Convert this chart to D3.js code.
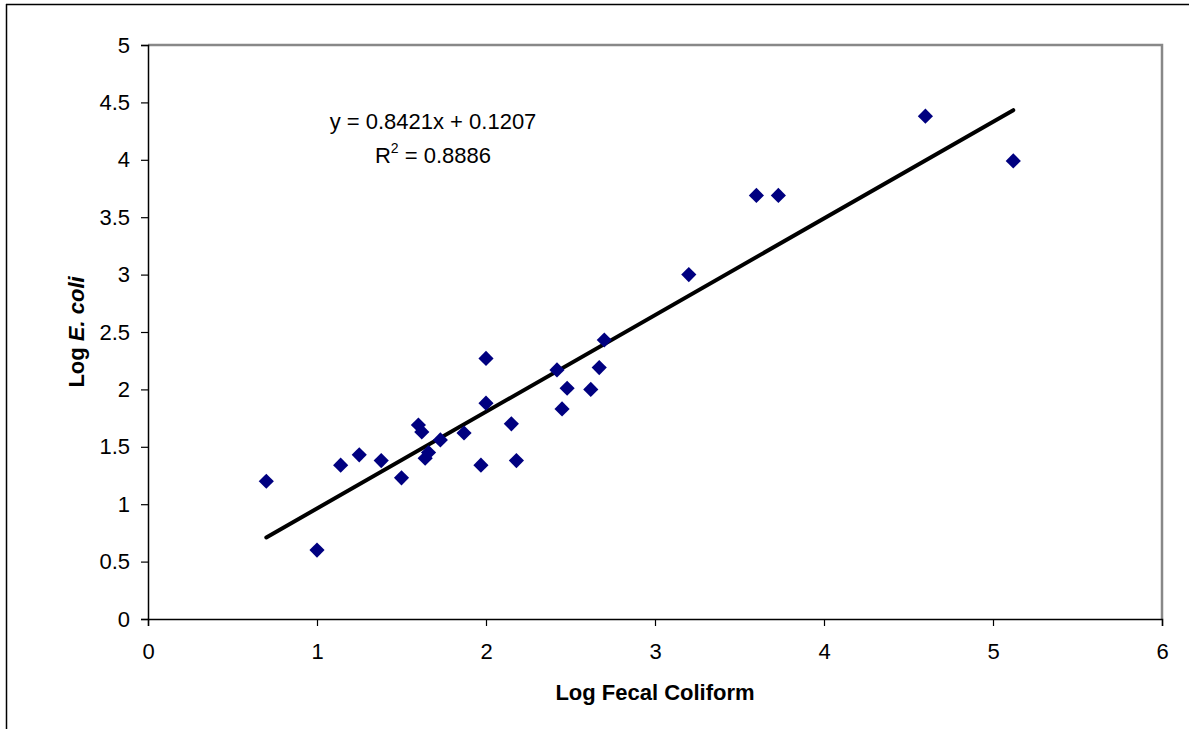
<!DOCTYPE html>
<html>
<head>
<meta charset="utf-8">
<script src="https://cdn.jsdelivr.net/npm/d3@7"></script>
<style>
  body { margin: 0; background: #fff; }
  svg { display: block; font-family: "Liberation Sans", Arial, sans-serif; }
</style>
</head>
<body>
<svg id="chart" width="1189" height="729"></svg>
<script>
// log fecal coliform vs log E. coli
var logFecal = [0.70, 1.00, 1.14, 1.25, 1.38, 1.50, 1.60, 1.62, 1.64, 1.66, 1.73, 1.87, 1.97, 2.00, 2.00, 2.15, 2.18, 2.42, 2.45, 2.48, 2.62, 2.67, 2.70, 3.20, 3.60, 3.73, 4.60, 5.12];
var logEcoli = [1.20, 0.60, 1.34, 1.43, 1.38, 1.23, 1.69, 1.63, 1.40, 1.45, 1.56, 1.62, 1.34, 2.27, 1.88, 1.70, 1.38, 2.17, 1.83, 2.01, 2.00, 2.19, 2.43, 3.00, 3.69, 3.69, 4.38, 3.99];
var xTicks = [0, 1, 2, 3, 4, 5, 6];
var yTicks = [0, 0.5, 1, 1.5, 2, 2.5, 3, 3.5, 4, 4.5, 5];
var slope = 0.8421, intercept = 0.1207, rSquared = 0.8886;

var svg = d3.select('#chart');

// outer chart frame (only top + left show in the crop)
svg.append('line').attr('x1', 6).attr('x2', 1189).attr('y1', 4.5).attr('y2', 4.5)
  .attr('stroke', '#000').attr('stroke-width', 1.5);
svg.append('line').attr('x1', 6.5).attr('x2', 6.5).attr('y1', 4).attr('y2', 729)
  .attr('stroke', '#000').attr('stroke-width', 1.5);

var x = d3.scaleLinear().domain([0, 6]).range([148, 1162]);
var y = d3.scaleLinear().domain([0, 5]).range([619, 45]);

// plot area border, grey on top/right
svg.append('path')
  .attr('d', 'M' + x(0) + ',' + y(5) + 'H' + x(6) + 'V' + y(0))
  .attr('fill', 'none').attr('stroke', '#888').attr('stroke-width', 2.5);

var xAxis = svg.append('g').attr('transform', 'translate(0,' + y(0) + ')')
  .call(d3.axisBottom(x).tickValues(xTicks).tickSize(7).tickPadding(17).tickFormat(d3.format('d')));
var yAxis = svg.append('g').attr('transform', 'translate(' + x(0) + ',0)')
  .call(d3.axisLeft(y).tickValues(yTicks).tickSize(7).tickPadding(11).tickFormat(function(d){ return String(d); }));

[xAxis, yAxis].forEach(function(g){
  g.select('.domain').attr('stroke', '#000').attr('stroke-width', 1.5);
  g.selectAll('.tick line').attr('stroke', '#000').attr('stroke-width', 1.2);
  g.selectAll('.tick text').attr('fill', '#000').style('font-size', '22px')
    .style('font-family', '"Liberation Sans", Arial, sans-serif');
});

// trendline over the data range
var xr = d3.extent(logFecal);
svg.append('line')
  .attr('x1', x(xr[0])).attr('y1', y(slope * xr[0] + intercept))
  .attr('x2', x(xr[1])).attr('y2', y(slope * xr[1] + intercept))
  .attr('stroke', '#000').attr('stroke-width', 4).attr('stroke-linecap', 'round');

// diamonds
var diamond = d3.symbol().type(d3.symbolSquare).size(115);
svg.selectAll('path.pt').data(logFecal).enter().append('path')
  .attr('class', 'pt')
  .attr('d', diamond)
  .attr('transform', function(d, i){ return 'translate(' + x(d) + ',' + y(logEcoli[i]) + ') rotate(45)'; })
  .attr('fill', '#000080');

// equation
svg.append('text').attr('x', 433).attr('y', 129).attr('text-anchor', 'middle')
  .style('font-size', '22px').text('y = ' + slope + 'x + ' + intercept);
var r2 = svg.append('text').attr('x', 433).attr('y', 163).attr('text-anchor', 'middle')
  .style('font-size', '22px');
r2.append('tspan').text('R');
r2.append('tspan').attr('dy', -10).style('font-size', '14px').text('2');
r2.append('tspan').attr('dy', 10).text(' = ' + rSquared);

// axis titles
svg.append('text').attr('x', 655).attr('y', 700).attr('text-anchor', 'middle')
  .style('font-size', '22px').style('font-weight', 'bold').text('Log Fecal Coliform');
var yt = svg.append('text').attr('transform', 'translate(84,332) rotate(-90)')
  .attr('text-anchor', 'middle').style('font-size', '22px').style('font-weight', 'bold');
yt.append('tspan').text('Log ');
yt.append('tspan').style('font-style', 'italic').text('E. coli');
</script>
</body>
</html>
